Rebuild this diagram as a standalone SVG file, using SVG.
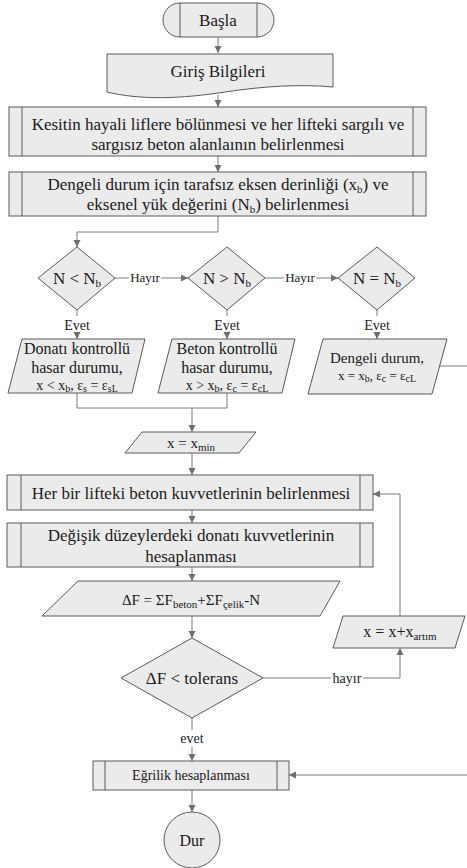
<svg xmlns="http://www.w3.org/2000/svg" width="467" height="868" viewBox="0 0 467 868">
<defs>
<marker id="ah" markerWidth="8" markerHeight="8" refX="7" refY="4" orient="auto" markerUnits="userSpaceOnUse">
<path d="M0,0.5 L7,4 L0,7.5 Z" fill="#6e6e6e"/>
</marker>
<style>
.s{fill:#ebebeb;stroke:#5a5a5a;stroke-width:1}
.l{fill:none;stroke:#7a7a7a;stroke-width:1}
.a{fill:none;stroke:#7a7a7a;stroke-width:1;marker-end:url(#ah)}
</style>
</defs>
<rect width="467" height="868" fill="#ffffff"/>

<g id="connectors">
<path class="a" d="M218,37 V53"/>
<path class="a" d="M218,95 V107"/>
<path class="a" d="M218,156 V172"/>
<path class="a" d="M218,216 V232 H77 V247"/>
<path class="l" d="M115,278 H129"/>
<path class="a" d="M161,278 H188"/>
<path class="l" d="M265,278 H284"/>
<path class="a" d="M316,278 H338"/>
<path class="l" d="M77,310 V316"/>
<path class="a" d="M77,332 V339"/>
<path class="l" d="M227,310 V316"/>
<path class="a" d="M227,332 V339"/>
<path class="l" d="M377,310 V316"/>
<path class="a" d="M377,332 V339"/>
<path class="l" d="M77,393 V408 H227 V393"/>
<path class="a" d="M192,408 V432"/>
<path class="l" d="M439,366 H467"/>
<path class="a" d="M192,453 V475"/>
<path class="a" d="M192,510 V523"/>
<path class="a" d="M192,567 V581"/>
<path class="a" d="M192,616 V638"/>
<path class="l" d="M263,678 H331"/>
<path class="a" d="M363,678 H400 V648"/>
<path class="a" d="M400,616 V494 H373"/>
<path class="l" d="M192,718 V730"/>
<path class="a" d="M192,747 V761"/>
<path class="a" d="M467,775 H289"/>
<path class="a" d="M192,790 V812"/>
<text font-family="Liberation Serif" font-size="13" text-anchor="middle" fill="#1a1a1a" x="145" y="282">Hayır</text>
<text font-family="Liberation Serif" font-size="13" text-anchor="middle" fill="#1a1a1a" x="300" y="282">Hayır</text>
<text font-family="Liberation Serif" font-size="14" text-anchor="middle" fill="#1a1a1a" x="77" y="330">Evet</text>
<text font-family="Liberation Serif" font-size="14" text-anchor="middle" fill="#1a1a1a" x="227" y="330">Evet</text>
<text font-family="Liberation Serif" font-size="14" text-anchor="middle" fill="#1a1a1a" x="377" y="330">Evet</text>
<text font-family="Liberation Serif" font-size="14" text-anchor="middle" fill="#1a1a1a" x="347" y="683">hayır</text>
<text font-family="Liberation Serif" font-size="14" text-anchor="middle" fill="#1a1a1a" x="192" y="743">evet</text>
</g>

<g id="basla">
<path class="s" d="M180,3 H257 A17,17 0 0 1 257,37 H180 A17,17 0 0 1 180,3 Z"/>
<line class="s" x1="180" y1="3" x2="180" y2="37"/>
<line class="s" x1="257" y1="3" x2="257" y2="37"/>
<text font-family="Liberation Serif" font-size="17" text-anchor="middle" fill="#1a1a1a" x="218" y="26">Başla</text>
</g>

<g id="giris">
<path class="s" d="M107,54 H333 V87 C300,84 265,86 225,92 C180,99 140,100 107,92 Z"/>
<text font-family="Liberation Serif" font-size="17" text-anchor="middle" fill="#1a1a1a" x="218" y="77">Giriş Bilgileri</text>
</g>

<g id="kesit">
<rect class="s" x="9" y="107" width="417" height="49"/>
<line class="s" x1="22" y1="107" x2="22" y2="156"/>
<line class="s" x1="413" y1="107" x2="413" y2="156"/>
<text font-family="Liberation Serif" font-size="17" text-anchor="middle" fill="#1a1a1a" x="218" y="130">Kesitin hayali liflere bölünmesi ve her lifteki sargılı ve</text>
<text font-family="Liberation Serif" font-size="17" text-anchor="middle" fill="#1a1a1a" x="218" y="150">sargısız beton alanlaının belirlenmesi</text>
</g>

<g id="dengeli">
<rect class="s" x="9" y="172" width="417" height="44"/>
<line class="s" x1="22" y1="172" x2="22" y2="216"/>
<line class="s" x1="413" y1="172" x2="413" y2="216"/>
<text font-family="Liberation Serif" font-size="17" text-anchor="middle" fill="#1a1a1a" x="218" y="190">Dengeli durum için tarafsız eksen derinliği (x<tspan font-size="11" dy="3">b</tspan><tspan dy="-3">) ve</tspan></text>
<text font-family="Liberation Serif" font-size="17" text-anchor="middle" fill="#1a1a1a" x="218" y="210">eksenel yük değerini (N<tspan font-size="11" dy="3">b</tspan><tspan dy="-3">) belirlenmesi</tspan></text>
</g>

<g id="d1">
<path class="s" d="M77,247 L115,278 L77,310 L38,278 Z"/>
<text font-family="Liberation Serif" font-size="17" text-anchor="middle" fill="#1a1a1a" x="77" y="284">N &lt; N<tspan font-size="11" dy="3">b</tspan></text>
</g>
<g id="d2">
<path class="s" d="M227,247 L265,278 L227,310 L188,278 Z"/>
<text font-family="Liberation Serif" font-size="17" text-anchor="middle" fill="#1a1a1a" x="227" y="284">N &gt; N<tspan font-size="11" dy="3">b</tspan></text>
</g>
<g id="d3">
<path class="s" d="M377,247 L415,278 L377,310 L338,278 Z"/>
<text font-family="Liberation Serif" font-size="17" text-anchor="middle" fill="#1a1a1a" x="377" y="284">N = N<tspan font-size="11" dy="3">b</tspan></text>
</g>

<g id="p1">
<path class="s" d="M22,339 H145 L132,393 H8 Z"/>
<text font-family="Liberation Serif" font-size="16" text-anchor="middle" fill="#1a1a1a" x="77" y="354">Donatı kontrollü</text>
<text font-family="Liberation Serif" font-size="16" text-anchor="middle" fill="#1a1a1a" x="77" y="373">hasar durumu,</text>
<text font-family="Liberation Serif" font-size="14" text-anchor="middle" fill="#1a1a1a" x="77" y="390">x &lt; x<tspan font-size="10" dy="2">b</tspan><tspan dy="-2">, ε</tspan><tspan font-size="10" dy="2">s</tspan><tspan dy="-2"> = ε</tspan><tspan font-size="10" dy="2">sL</tspan></text>
</g>
<g id="p2">
<path class="s" d="M172,339 H295 L282,393 H158 Z"/>
<text font-family="Liberation Serif" font-size="16" text-anchor="middle" fill="#1a1a1a" x="227" y="354">Beton kontrollü</text>
<text font-family="Liberation Serif" font-size="16" text-anchor="middle" fill="#1a1a1a" x="227" y="373">hasar durumu,</text>
<text font-family="Liberation Serif" font-size="14" text-anchor="middle" fill="#1a1a1a" x="227" y="390">x &gt; x<tspan font-size="10" dy="2">b</tspan><tspan dy="-2">, ε</tspan><tspan font-size="10" dy="2">c</tspan><tspan dy="-2"> = ε</tspan><tspan font-size="10" dy="2">cL</tspan></text>
</g>
<g id="p3">
<path class="s" d="M323,339 H447 L432,394 H308 Z"/>
<text font-family="Liberation Serif" font-size="15" text-anchor="middle" fill="#1a1a1a" x="377" y="363">Dengeli durum,</text>
<text font-family="Liberation Serif" font-size="13" text-anchor="middle" fill="#1a1a1a" x="377" y="380">x = x<tspan font-size="10" dy="2">b</tspan><tspan dy="-2">, ε</tspan><tspan font-size="10" dy="2">c</tspan><tspan dy="-2"> = ε</tspan><tspan font-size="10" dy="2">cL</tspan></text>
</g>

<g id="xmin">
<path class="s" d="M142,432 H256 L239,453 H125 Z"/>
<text font-family="Liberation Serif" font-size="15" text-anchor="middle" fill="#1a1a1a" x="191" y="448">x = x<tspan font-size="11" dy="3">min</tspan></text>
</g>

<g id="herbir">
<rect class="s" x="7" y="475" width="366" height="35"/>
<line class="s" x1="21" y1="475" x2="21" y2="510"/>
<line class="s" x1="360" y1="475" x2="360" y2="510"/>
<text font-family="Liberation Serif" font-size="17" text-anchor="middle" fill="#1a1a1a" x="191" y="499">Her bir lifteki beton kuvvetlerinin belirlenmesi</text>
</g>

<g id="degisik">
<rect class="s" x="7" y="523" width="366" height="44"/>
<line class="s" x1="21" y1="523" x2="21" y2="567"/>
<line class="s" x1="360" y1="523" x2="360" y2="567"/>
<text font-family="Liberation Serif" font-size="17" text-anchor="middle" fill="#1a1a1a" x="191" y="541">Değişik düzeylerdeki donatı kuvvetlerinin</text>
<text font-family="Liberation Serif" font-size="17" text-anchor="middle" fill="#1a1a1a" x="191" y="562">hesaplanması</text>
</g>

<g id="deltaF">
<path class="s" d="M78,581 H340 L320,616 H42 Z"/>
<text font-family="Liberation Serif" font-size="15" text-anchor="middle" fill="#1a1a1a" x="191" y="605">ΔF = ΣF<tspan font-size="11" dy="3">beton</tspan><tspan dy="-3">+ΣF</tspan><tspan font-size="11" dy="3">çelik</tspan><tspan dy="-3">-N</tspan></text>
</g>

<g id="xartim">
<path class="s" d="M343,616 H465 L455,648 H333 Z"/>
<text font-family="Liberation Serif" font-size="16" text-anchor="middle" fill="#1a1a1a" x="400" y="637">x = x+x<tspan font-size="11" dy="3">artım</tspan></text>
</g>

<g id="tolerans">
<path class="s" d="M192,638 L263,678 L192,718 L121,678 Z"/>
<text font-family="Liberation Serif" font-size="17" text-anchor="middle" fill="#1a1a1a" x="192" y="684">ΔF &lt; tolerans</text>
</g>

<g id="egrilik">
<rect class="s" x="93" y="761" width="196" height="29"/>
<line class="s" x1="105" y1="761" x2="105" y2="790"/>
<line class="s" x1="277" y1="761" x2="277" y2="790"/>
<text font-family="Liberation Serif" font-size="14" text-anchor="middle" fill="#1a1a1a" x="191" y="780">Eğrilik hesaplanması</text>
</g>

<g id="dur">
<circle class="s" cx="192" cy="840" r="28"/>
<text font-family="Liberation Serif" font-size="16" text-anchor="middle" fill="#1a1a1a" x="192" y="846">Dur</text>
</g>
</svg>
